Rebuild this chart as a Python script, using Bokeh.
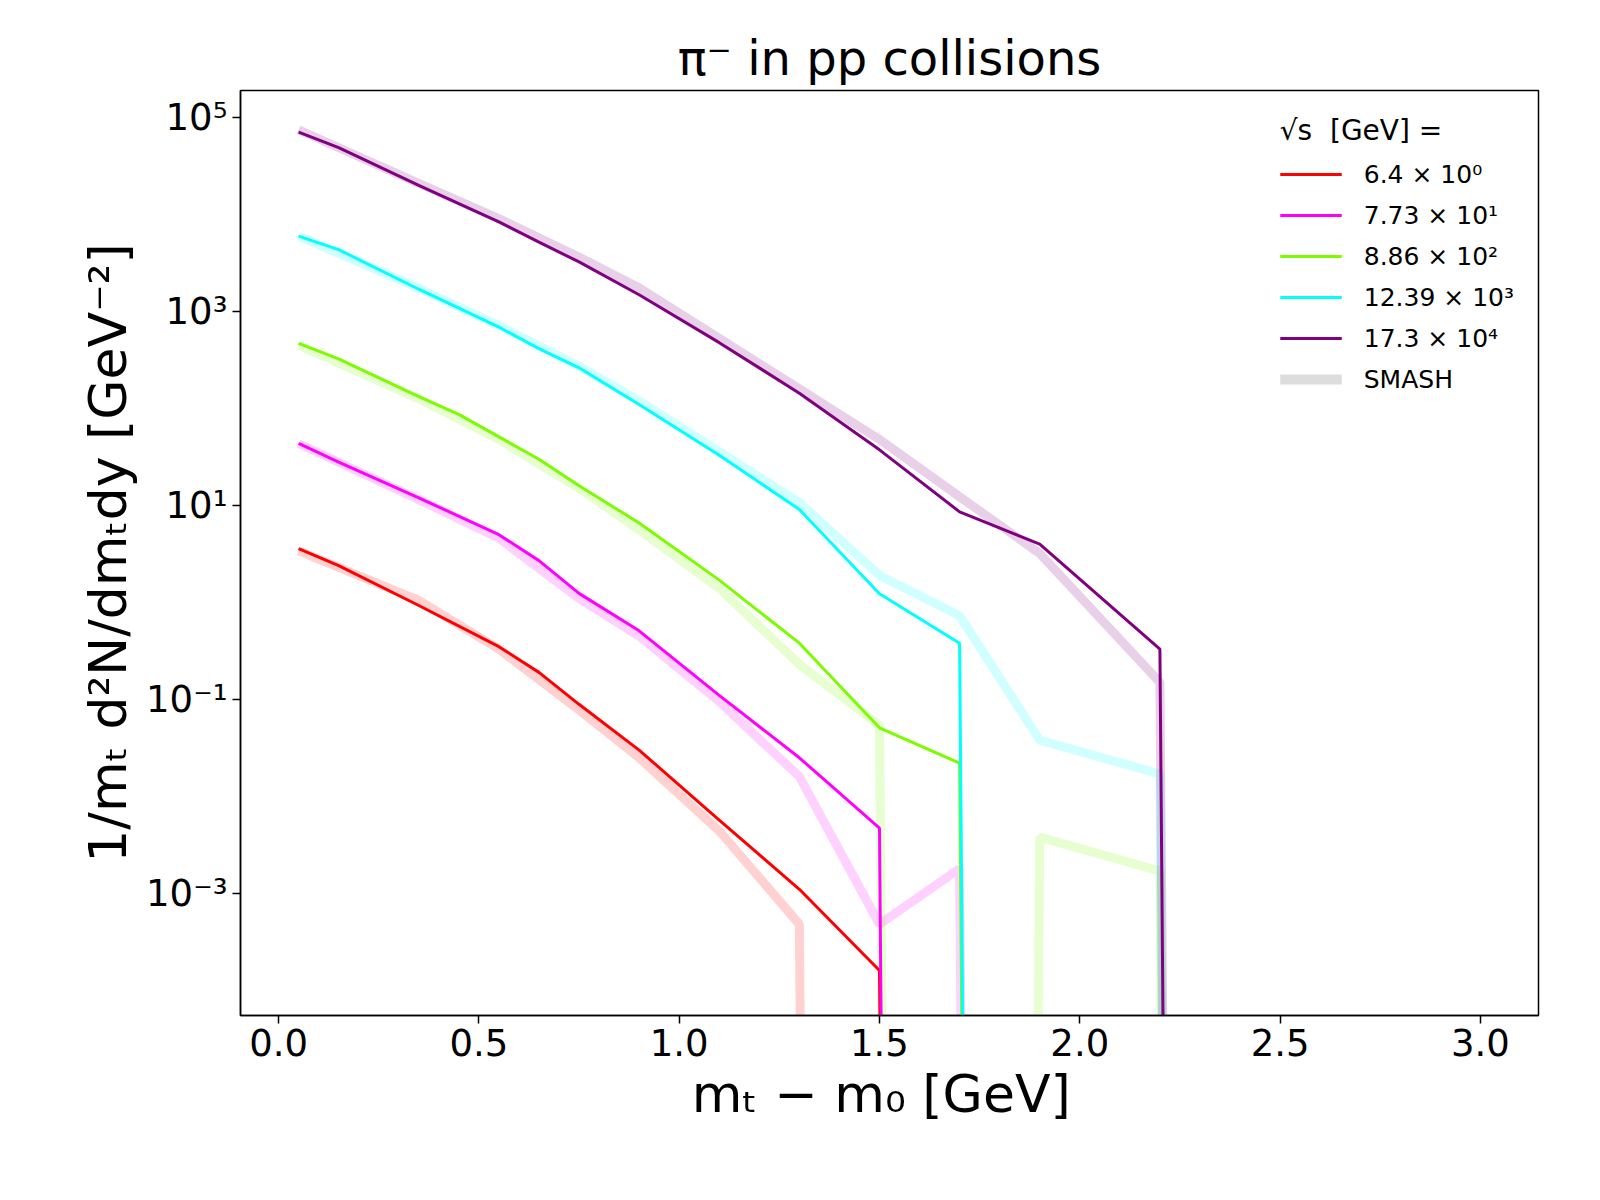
from bokeh.plotting import figure
from bokeh.models import Range1d, FixedTicker, Legend, LegendItem, Label, Title
from bokeh.embed import file_html
from bokeh.resources import INLINE

Z = 1e-100  # zero yield (drawn as a vertical drop on log axis)

x_red = [0.05, 0.15, 0.35, 0.55, 0.65, 0.75, 0.9, 1.1, 1.3, 1.5, 1.7]
y_red = [3.6, 2.4, 0.93, 0.35, 0.19, 0.089, 0.030, 0.0057, 0.0011, 1.6e-4, Z]
xs_red = [0.05, 0.35, 0.55, 0.75, 0.9, 1.1, 1.3, 1.5]
ys_red = [3.4, 1.05, 0.33, 0.078, 0.025, 0.0044, 4.8e-4, Z]

x_mag = [0.05, 0.15, 0.35, 0.55, 0.65, 0.75, 0.9, 1.1, 1.3, 1.5, 1.7]
y_mag = [43.6, 28, 12, 5.0, 2.7, 1.24, 0.51, 0.11, 0.025, 0.0047, Z]
xs_mag = [0.05, 0.35, 0.55, 0.75, 0.9, 1.1, 1.3, 1.5, 1.7, 1.9]
ys_mag = [43.6, 11.5, 4.6, 1.1, 0.45, 0.095, 0.016, 4.8e-4, 0.0018, Z]

x_grn = [0.05, 0.15, 0.35, 0.45, 0.55, 0.65, 0.75, 0.9, 1.1, 1.3, 1.5, 1.7, 1.9]
y_grn = [470, 325, 133, 87, 51, 30, 16, 6.6, 1.7, 0.38, 0.051, 0.022, Z]
xs_grn = [0.05, 0.35, 0.55, 0.75, 0.9, 1.1, 1.3, 1.5, 1.7, 1.9, 2.2, 2.4]
ys_grn = [450, 126, 48, 15, 5.6, 1.4, 0.23, 0.054, Z, 0.0038, 0.0017, Z]

x_cyn = [0.05, 0.15, 0.35, 0.55, 0.65, 0.75, 0.9, 1.1, 1.3, 1.5, 1.7, 1.9]
y_cyn = [6000, 4350, 1700, 690, 415, 263, 110, 33, 9.1, 1.23, 0.38, Z]
xs_cyn = [0.05, 0.35, 0.55, 0.75, 0.9, 1.1, 1.3, 1.5, 1.7, 1.9, 2.2, 2.4]
ys_cyn = [6000, 1750, 720, 275, 120, 36, 10.7, 1.9, 0.73, 0.038, 0.017, Z]

x_pur = [0.05, 0.15, 0.35, 0.55, 0.65, 0.75, 0.9, 1.1, 1.3, 1.5, 1.7, 1.9, 2.2, 2.4]
y_pur = [71000, 49000, 20000, 8400, 5200, 3250, 1490, 478, 144, 37.5, 8.6, 4.0, 0.33, Z]
xs_pur = [0.05, 0.35, 0.55, 0.75, 0.9, 1.1, 1.3, 1.5, 1.7, 1.9, 2.2, 2.4]
ys_pur = [75000, 21000, 9100, 3650, 1760, 530, 160, 48, 12.3, 3.2, 0.15, Z]

labels = ["6.4 × 10⁰", "7.73 × 10¹", "8.86 × 10²", "12.39 × 10³", "17.3 × 10⁴"]
colors = ["red", "magenta", "lawngreen", "cyan", "purple"]

y_ticks = [1e-3, 1e-1, 1e1, 1e3, 1e5]
y_tick_labels = ["10⁻³", "10⁻¹", "10¹", "10³", "10⁵"]

W, H = 1560, 1165
p = figure(width=W, height=H, y_axis_type="log", output_backend="svg",
           toolbar_location=None, x_range=Range1d(-0.095, 3.145),
           y_range=Range1d(10**-4.26, 10**5.28),
           min_border_left=240, min_border_right=22, min_border_top=90, min_border_bottom=150)
p.grid.visible = False
p.outline_line_color = "black"
p.outline_line_width = 1.5
p.outline_line_alpha = 1

p.add_layout(Title(text="π⁻ in pp collisions", align="center", text_font_size="48px",
                   text_font="DejaVu Sans", text_font_style="normal", text_color="black"), "above")

series = [(x_red, y_red, xs_red, ys_red), (x_mag, y_mag, xs_mag, ys_mag),
          (x_grn, y_grn, xs_grn, ys_grn), (x_cyn, y_cyn, xs_cyn, ys_cyn),
          (x_pur, y_pur, xs_pur, ys_pur)]
for (xd, yd, xs, ys), c in zip(series, colors):
    p.line(xs, ys, color=c, line_width=9, alpha=0.18)
items = []
for (xd, yd, xs, ys), c, lab in zip(series, colors, labels):
    r = p.line(xd, yd, color=c, line_width=3)
    items.append(LegendItem(label=lab, renderers=[r]))
rs = p.line([-10, -9], [1, 1], color="#dddddd", line_width=10)
items.append(LegendItem(label="SMASH", renderers=[rs]))

leg = Legend(items=items, location="top_right", title="√s  [GeV] =",
             title_text_font_size="28px", title_text_font="DejaVu Sans", title_text_font_style="normal",
             title_text_color="black", title_standoff=12,
             label_text_font_size="25px", label_text_font="DejaVu Sans", label_text_color="black",
             background_fill_alpha=0, border_line_alpha=0, glyph_width=62, label_standoff=22,
             spacing=11, label_height=30, glyph_height=30, margin=14, padding=10)
p.add_layout(leg)

for ax in (p.xaxis[0], p.yaxis[0]):
    ax.major_label_text_font = "DejaVu Sans"
    ax.major_label_text_font_size = "37px"
    ax.major_label_text_color = "black"
    ax.axis_label_text_font = "DejaVu Sans"
    ax.axis_label_text_font_size = "52px"
    ax.axis_label_text_font_style = "normal"
    ax.axis_label_text_color = "black"
    ax.major_tick_out = 8
    ax.major_tick_in = 0
    ax.minor_tick_out = 0
    ax.minor_tick_in = 0
    ax.major_tick_line_width = 1.5
    ax.major_tick_line_color = "black"
    ax.axis_line_width = 1.5
    ax.axis_line_color = "black"

p.xaxis.ticker = FixedTicker(ticks=[0, 0.5, 1.0, 1.5, 2.0, 2.5, 3.0])
p.xaxis.major_label_overrides = {0: "0.0", 0.5: "0.5", 1: "1.0", 1.5: "1.5", 2: "2.0", 2.5: "2.5", 3: "3.0"}
p.yaxis.ticker = FixedTicker(ticks=y_ticks, minor_ticks=[])
p.yaxis.major_label_overrides = {t: l for t, l in zip(y_ticks, y_tick_labels)}
p.xaxis.axis_label = "mₜ − m₀  [GeV]"
p.yaxis.axis_label = "1/mₜ d²N/dmₜdy [GeV⁻²]"

p.add_layout(Label(x=236, y=H - 44, x_units="screen", y_units="screen", text_baseline="top",
                   text="SMASH code:      SMASH-3.4\nSMASH analysis: SMASH-analysis-3.4",
                   text_font_size="9px", text_color="#555555", text_font="DejaVu Sans"))

open("out.html", "w").write(file_html(p, INLINE))
